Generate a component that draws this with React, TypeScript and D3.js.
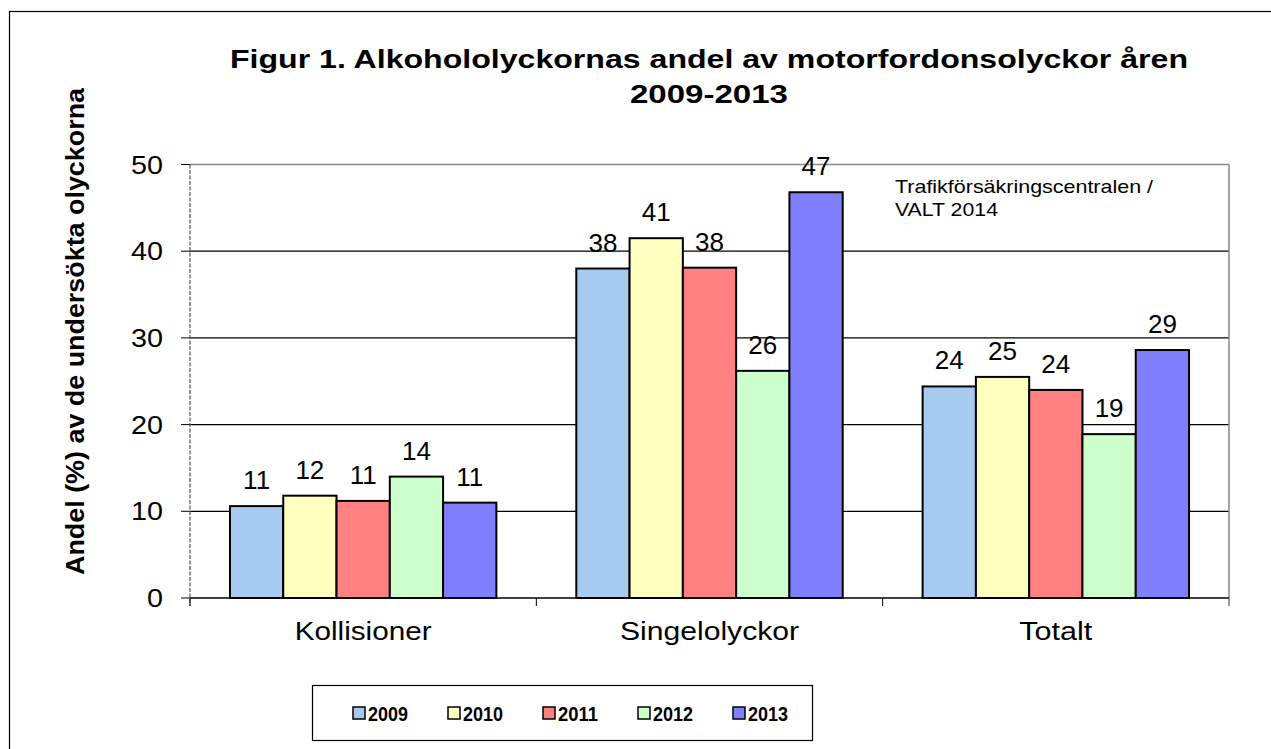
import React from "react";
import * as d3 from "d3";

const categories = ["Kollisioner", "Singelolyckor", "Totalt"];
const years = ["2009", "2010", "2011", "2012", "2013"];
const values2009 = [10.6, 38.0, 24.4];
const values2010 = [11.8, 41.5, 25.5];
const values2011 = [11.2, 38.1, 24.0];
const values2012 = [14.0, 26.2, 18.9];
const values2013 = [11.0, 46.8, 28.6];
const labels2009 = ["11", "38", "24"];
const labels2010 = ["12", "41", "25"];
const labels2011 = ["11", "38", "24"];
const labels2012 = ["14", "26", "19"];
const labels2013 = ["11", "47", "29"];
const yTicks = [0, 10, 20, 30, 40, 50];
const colors = ["#A6CAF0", "#FFFFC0", "#FF8080", "#CCFFCC", "#8080FF"];

const seriesValues = [values2009, values2010, values2011, values2012, values2013];
const seriesLabels = [labels2009, labels2010, labels2011, labels2012, labels2013];

const W = 1271;
const H = 749;
const plot = { left: 190, right: 1229, top: 164.5, bottom: 598 };
const FONT = "'Liberation Sans', Arial, sans-serif";
const catLengths: Record<string, number> = { Kollisioner: 137, Singelolyckor: 179, Totalt: 73 };

export default function App() {
  const y = d3.scaleLinear().domain([0, 50]).range([plot.bottom, plot.top]);
  const x0 = d3.scaleBand().domain(categories).range([plot.left, plot.right]).paddingInner(0).paddingOuter(0);
  const groupW = x0.bandwidth() * (5 / 6.5);
  const x1 = d3.scaleBand().domain(years).range([0, groupW]).padding(0);
  const groupOffset = (x0.bandwidth() - groupW) / 2;

  const boundaries = [...categories.map((c) => x0(c)!), plot.right];

  const legendX0 = 353;
  const legendStep = 95;

  return (
    <svg width={W} height={H} style={{ position: "absolute", left: 0, top: 0, background: "#fff" }} fontFamily={FONT}>
      <rect x={0} y={0} width={W} height={H} fill="#fff" />
      {/* outer border */}
      <rect x={9.5} y={11.5} width={W + 20} height={H + 20} fill="none" stroke="#000" strokeWidth={1.2} />

      {/* title */}
      <text x={709} y={68} textAnchor="middle" fontSize={25} fontWeight="bold" textLength={958} lengthAdjust="spacingAndGlyphs">
        Figur 1. Alkohololyckornas andel av motorfordonsolyckor åren
      </text>
      <text x={709} y={103} textAnchor="middle" fontSize={25} fontWeight="bold" textLength={158} lengthAdjust="spacingAndGlyphs">
        2009-2013
      </text>

      {/* y-axis label */}
      <text
        transform={`translate(84, 331.5) rotate(-90)`}
        textAnchor="middle"
        fontSize={25}
        fontWeight="bold"
        textLength={487}
        lengthAdjust="spacingAndGlyphs"
      >
        Andel (%) av de undersökta olyckorna
      </text>

      {/* gridlines */}
      {yTicks.filter((t) => t > 0 && t < 50).map((t) => (
        <line key={t} x1={plot.left} x2={plot.right} y1={y(t)} y2={y(t)} stroke="#000" strokeWidth={1.2} />
      ))}
      {/* plot border top & right */}
      <line x1={plot.left} x2={plot.right} y1={y(50)} y2={y(50)} stroke="#888" strokeWidth={1.5} />
      <line x1={plot.right} x2={plot.right} y1={y(50)} y2={plot.bottom + 8} stroke="#888" strokeWidth={1.5} />

      {/* y ticks */}
      {yTicks.map((t) => (
        <g key={t}>
          <line x1={plot.left - 9} x2={plot.left} y1={y(t)} y2={y(t)} stroke="#000" strokeWidth={1} />
          <text
            x={163}
            y={y(t) + 9}
            textAnchor="end"
            fontSize={25}
            textLength={String(t).length * 16}
            lengthAdjust="spacingAndGlyphs"
          >
            {t}
          </text>
        </g>
      ))}
      {/* y axis (dashed) */}
      <line x1={plot.left} x2={plot.left} y1={y(50)} y2={plot.bottom + 8} stroke="#555" strokeWidth={1.2} strokeDasharray="4,1.5" />

      {/* bars */}
      {categories.map((c, ci) => (
        <g key={c} transform={`translate(${x0(c)! + groupOffset},0)`}>
          {years.map((yr, si) => {
            const v = seriesValues[si][ci];
            const bx = x1(yr)!;
            const bw = x1.bandwidth();
            return (
              <g key={yr}>
                <rect x={bx} y={y(v)} width={bw} height={plot.bottom - y(v)} fill={colors[si]} stroke="#000" strokeWidth={2} />
                <text x={bx + bw / 2} y={y(v) - 17} textAnchor="middle" fontSize={26}>
                  {seriesLabels[si][ci]}
                </text>
              </g>
            );
          })}
        </g>
      ))}

      {/* x axis */}
      <line x1={plot.left} x2={plot.right} y1={plot.bottom} y2={plot.bottom} stroke="#000" strokeWidth={1.5} />
      {boundaries.map((b, i) => (
        <line key={i} x1={b} x2={b} y1={plot.bottom} y2={plot.bottom + 8} stroke={i === boundaries.length - 1 ? "#888" : "#000"} strokeWidth={1} />
      ))}
      {categories.map((c) => (
        <text
          key={c}
          x={x0(c)! + x0.bandwidth() / 2}
          y={640}
          textAnchor="middle"
          fontSize={25}
          textLength={catLengths[c]}
          lengthAdjust="spacingAndGlyphs"
        >
          {c}
        </text>
      ))}

      {/* source annotation */}
      <text x={895} y={193} fontSize={19} textLength={258} lengthAdjust="spacingAndGlyphs">Trafikförsäkringscentralen /</text>
      <text x={895} y={216} fontSize={19} textLength={103} lengthAdjust="spacingAndGlyphs">VALT 2014</text>

      {/* legend */}
      <rect x={312.5} y={685.5} width={500} height={55} fill="#fff" stroke="#000" strokeWidth={1.2} />
      {years.map((yr, i) => (
        <g key={yr} transform={`translate(${legendX0 + i * legendStep}, 713)`}>
          <rect x={0} y={-6} width={12} height={12} fill={colors[i]} stroke="#000" strokeWidth={1.5} />
          <text x={15} y={8} fontSize={20} fontWeight="bold" textLength={40} lengthAdjust="spacingAndGlyphs">
            {yr}
          </text>
        </g>
      ))}
    </svg>
  );
}
